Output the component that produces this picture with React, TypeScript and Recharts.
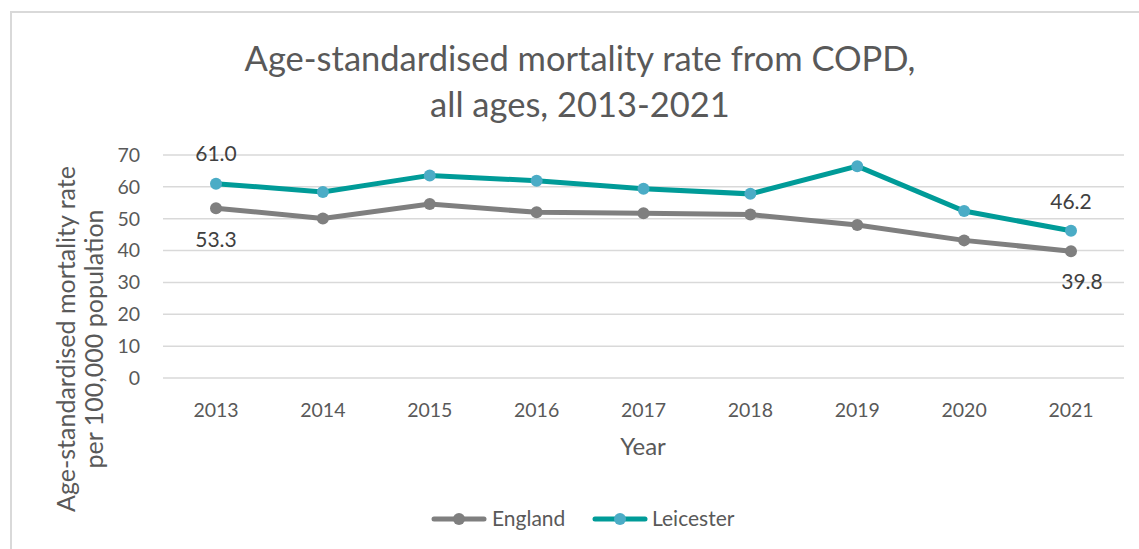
import React from 'react';
import { LineChart, Line, XAxis, YAxis, CartesianGrid, LabelList } from 'recharts';

const years = ['2013', '2014', '2015', '2016', '2017', '2018', '2019', '2020', '2021'];
const england = [53.3, 50.1, 54.6, 52.0, 51.7, 51.3, 48.0, 43.2, 39.8];
const leicester = [61.0, 58.4, 63.6, 61.9, 59.4, 57.8, 66.5, 52.4, 46.2];
const yTicks = [0, 10, 20, 30, 40, 50, 60, 70];

const titleLines = ['Age-standardised mortality rate from COPD,', 'all ages, 2013-2021'];
const yTitleLines = ['Age-standardised mortality rate', 'per 100,000 population'];
const xTitle = 'Year';

const data = years.map((y, i) => ({ year: y, England: england[i], Leicester: leicester[i] }));

const FONT = 'Lato, "Open Sans", sans-serif';
const ENG = '#7f7f7f';
const LEI_LINE = '#009b98';
const LEI_DOT = '#4bacc6';

const makeLabel = (dyFirst: number, dyLast: number, dxLast: number) => (props: any) => {
  const { x, y, value, index } = props;
  const last = data.length - 1;
  if (index !== 0 && index !== last) return null;
  const dy = index === 0 ? dyFirst : dyLast;
  const dx = index === 0 ? 0 : dxLast;
  return (
    <text
      x={x + dx}
      y={y + dy + 7.5}
      textAnchor="middle"
      fontFamily={FONT}
      fontSize={21}
      fill="#404040"
    >
      {Number(value).toFixed(1)}
    </text>
  );
};

export default function App() {
  return (
    <div style={{ position: 'absolute', left: 0, top: 0, width: 1139, height: 549, overflow: 'hidden', background: '#fff' }}>
      <div style={{ position: 'absolute', left: 10, top: 11, width: 1160, height: 600, border: '2px solid #d9d9d9', boxSizing: 'border-box' }} />
      <div style={{ position: 'absolute', left: 0, top: 0 }}>
        <LineChart width={1139} height={549} data={data} margin={{ top: 155, right: 15, left: 0, bottom: 141 }}>
          <CartesianGrid horizontal vertical={false} stroke="#d9d9d9" strokeWidth={1.5} />
          <XAxis
            dataKey="year"
            height={30}
            axisLine={false}
            tickLine={false}
            tickSize={0}
            tickMargin={25}
            padding={{ left: 53, right: 53 }}
            tick={{ fontFamily: FONT, fontSize: 19.5, fill: '#595959' }}
            interval={0}
          />
          <YAxis
            width={163}
            domain={[0, 70]}
            ticks={yTicks}
            axisLine={false}
            tickLine={false}
            tickSize={0}
            tickMargin={23}
            tick={{ fontFamily: FONT, fontSize: 19.5, fill: '#595959' }}
          />
          <Line
            dataKey="England"
            stroke={ENG}
            strokeWidth={5}
            dot={{ r: 6, fill: ENG, stroke: ENG, strokeWidth: 0 }}
            isAnimationActive={false}
          >
            <LabelList dataKey="England" content={makeLabel(31, 30, 11)} />
          </Line>
          <Line
            dataKey="Leicester"
            stroke={LEI_LINE}
            strokeWidth={5}
            dot={{ r: 6, fill: LEI_DOT, stroke: LEI_DOT, strokeWidth: 0 }}
            isAnimationActive={false}
          >
            <LabelList dataKey="Leicester" content={makeLabel(-30, -29, 0)} />
          </Line>
        </LineChart>
      </div>
      <svg width={1139} height={549} style={{ position: 'absolute', left: 0, top: 0, pointerEvents: 'none' }}>
        <text x={580} y={71} textAnchor="middle" fontFamily={FONT} fontSize={34.5} fill="#595959">{titleLines[0]}</text>
        <text x={580} y={117} textAnchor="middle" fontFamily={FONT} fontSize={34.5} fill="#595959">{titleLines[1]}</text>
        <text x={75} y={339} transform="rotate(-90 75 339)" textAnchor="middle" fontFamily={FONT} fontSize={25} fill="#595959">{yTitleLines[0]}</text>
        <text x={103} y={339} transform="rotate(-90 103 339)" textAnchor="middle" fontFamily={FONT} fontSize={25} fill="#595959">{yTitleLines[1]}</text>
        <text x={643} y={455} textAnchor="middle" fontFamily={FONT} fontSize={24} fill="#595959">{xTitle}</text>
        <g>
          <line x1={434} y1={519} x2={484} y2={519} stroke={ENG} strokeWidth={5} strokeLinecap="round" />
          <circle cx={459} cy={519} r={6} fill={ENG} />
          <text x={492} y={526} fontFamily={FONT} fontSize={21} fill="#595959">England</text>
          <line x1={595} y1={519} x2={645} y2={519} stroke={LEI_LINE} strokeWidth={5} strokeLinecap="round" />
          <circle cx={620} cy={519} r={6} fill={LEI_DOT} />
          <text x={652} y={526} fontFamily={FONT} fontSize={21} fill="#595959">Leicester</text>
        </g>
      </svg>
    </div>
  );
}
